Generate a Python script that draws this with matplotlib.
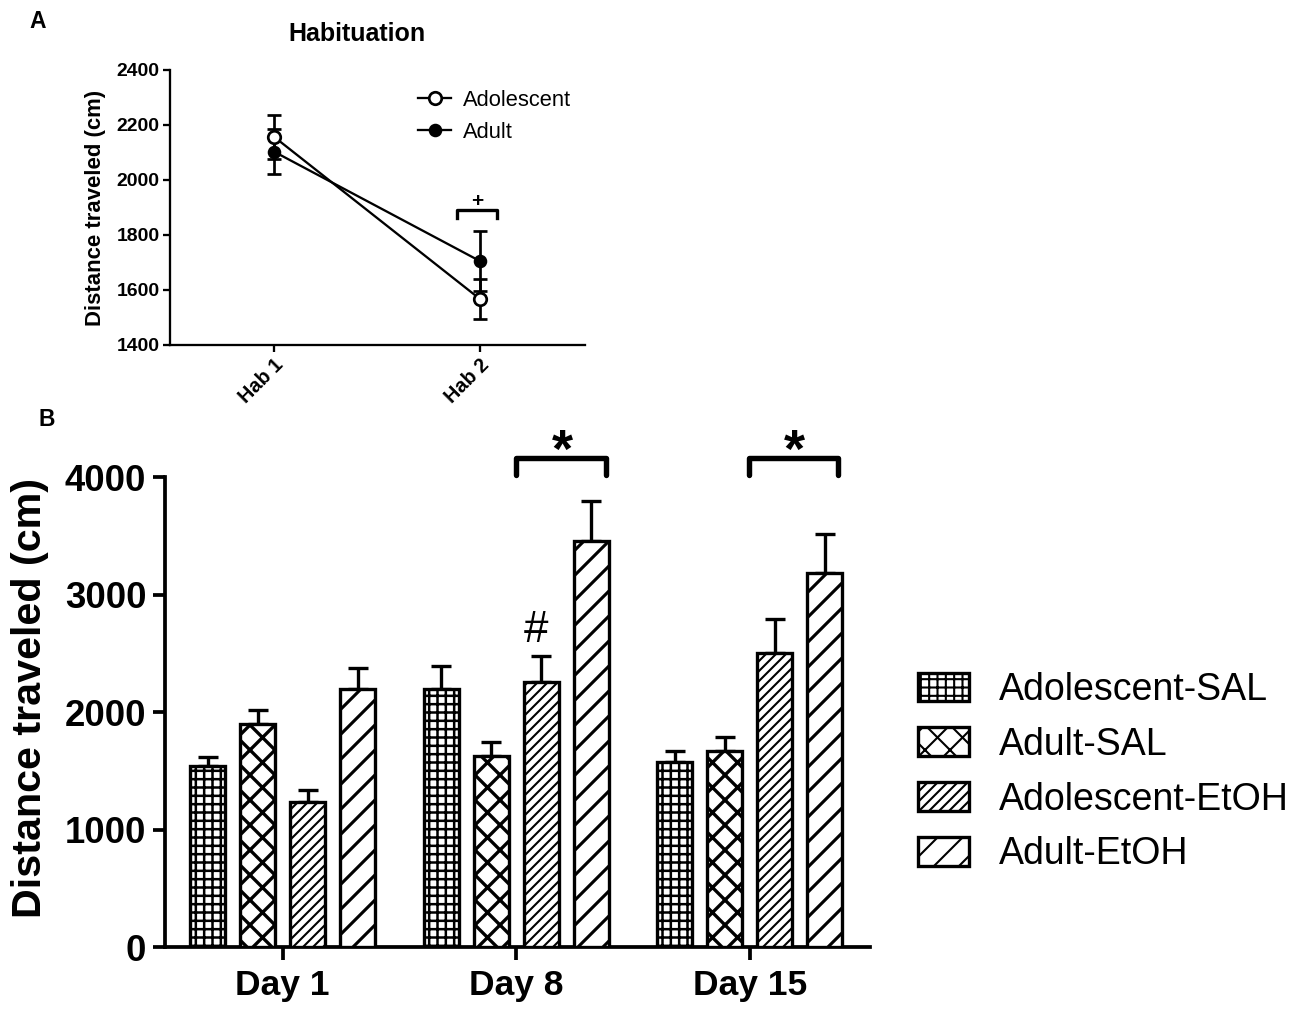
import numpy as np
import matplotlib
matplotlib.use('Agg')
import matplotlib.pyplot as plt

plt.rcParams['font.family'] = ['Liberation Sans', 'DejaVu Sans']

# Panel A: habituation
hab_labels = ['Hab 1', 'Hab 2']
adol_hab = [2157, 1567]
adol_hab_err = [80, 73]
adult_hab = [2103, 1705]
adult_hab_err = [82, 110]

# Panel B: test days
days = ['Day 1', 'Day 8', 'Day 15']
groups = ['Adolescent-SAL', 'Adult-SAL', 'Adolescent-EtOH', 'Adult-EtOH']
means = {
    'Adolescent-SAL': [1545, 2200, 1578],
    'Adult-SAL': [1900, 1630, 1668],
    'Adolescent-EtOH': [1238, 2255, 2500],
    'Adult-EtOH': [2195, 3455, 3183],
}
sems = {
    'Adolescent-SAL': [75, 188, 92],
    'Adult-SAL': [120, 118, 122],
    'Adolescent-EtOH': [97, 218, 290],
    'Adult-EtOH': [180, 343, 330],
}
hatches = ['+++', 'xx', '/////', '//']
hatch_lw = [1.2, 1.6, 1.0, 1.5]

fig = plt.figure(figsize=(1300 / 150, 1017 / 150), dpi=150)

# ---------------- Panel A ----------------
axA = fig.add_axes([0.1308, 0.6608, 0.3192, 0.2704])
x = np.arange(len(hab_labels))
axA.errorbar(x, adol_hab, yerr=adol_hab_err, color='black', lw=1.1,
             marker='o', ms=6, mfc='white', mec='black', mew=1.3,
             capsize=3.2, capthick=1.3, elinewidth=1.3, label='Adolescent')
axA.errorbar(x, adult_hab, yerr=adult_hab_err, color='black', lw=1.1,
             marker='o', ms=5.5, mfc='black', mec='black',
             capsize=3.2, capthick=1.3, elinewidth=1.3, label='Adult')
axA.set_xlim(-0.505, 1.51)
axA.set_ylim(1400, 2400)
axA.set_yticks(np.arange(1400, 2401, 200))
axA.set_xticks(x)
axA.set_xticklabels(hab_labels, rotation=45, ha='right', rotation_mode='anchor',
                    fontsize=9.5, fontweight='bold')
for lab in axA.get_yticklabels():
    lab.set_fontsize(9.3)
    lab.set_fontweight('bold')
axA.spines['top'].set_visible(False)
axA.spines['right'].set_visible(False)
for s in ['left', 'bottom']:
    axA.spines[s].set_linewidth(1.1)
axA.tick_params(width=1.1, length=3.5, pad=1.5)
axA.set_ylabel('Distance traveled (cm)', fontsize=10.6, fontweight='bold')
axA.yaxis.set_label_coords(-0.155, 0.5)
axA.set_title('Habituation', fontsize=12, fontweight='bold', x=0.45, pad=14)
hA, lA = axA.get_legend_handles_labels()
hA = [h[0] for h in hA]
axA.legend(hA, lA, loc='center left', bbox_to_anchor=(0.598, 0.832), frameon=False,
           fontsize=10.5, handlelength=1.5, handletextpad=0.55, borderpad=0,
           borderaxespad=0, labelspacing=0.5)
# significance bracket at Hab 2
axA.plot([0.888, 0.888, 1.083, 1.083], [1862, 1891, 1891, 1862], color='black',
         lw=1.6, clip_on=False)
axA.text(0.985, 1902, '+', ha='center', va='baseline', fontsize=10, fontweight='bold')

# ---------------- Panel B ----------------
axB = fig.add_axes([0.1269, 0.0688, 0.5423, 0.4621])
xd = np.arange(len(days))
offsets = (np.arange(len(groups)) - 1.5) * 0.214
bar_w = 0.15
for i, g in enumerate(groups):
    bars = axB.bar(xd + offsets[i], means[g], width=bar_w, color='white',
                   edgecolor='black', linewidth=1.6, hatch=hatches[i], label=g,
                   zorder=3)
    for b in bars:
        if hasattr(b, 'set_hatch_linewidth'):
            b.set_hatch_linewidth(hatch_lw[i])
    axB.errorbar(xd + offsets[i], means[g], yerr=[np.zeros(3), sems[g]], fmt='none',
                 ecolor='black', elinewidth=1.6, capsize=5, capthick=1.6, zorder=2)

axB.set_xlim(-0.504, 2.515)
axB.set_ylim(0, 4000)
axB.set_yticks(np.arange(0, 4001, 1000))
axB.set_xticks(xd)
axB.set_xticklabels(days, fontsize=17, fontweight='bold')
for lab in axB.get_yticklabels():
    lab.set_fontsize(17.5)
    lab.set_fontweight('bold')
axB.spines['top'].set_visible(False)
axB.spines['right'].set_visible(False)
for s in ['left', 'bottom']:
    axB.spines[s].set_linewidth(1.8)
axB.tick_params(width=1.8, length=6, pad=3)
axB.tick_params(axis='x', pad=4.5)
axB.set_ylabel('Distance traveled (cm)', fontsize=19.8, fontweight='bold')
axB.yaxis.set_label_coords(-0.165, 0.53)

leg = axB.legend(loc='center left', bbox_to_anchor=(1.068, 0.372), frameon=False,
                 fontsize=18, handlelength=1.35, handleheight=0.8,
                 handletextpad=0.8, labelspacing=0.5, borderpad=0, borderaxespad=0)

# significance brackets
for xa, xb, xs in [(1.0, 1.385, 1.2), (1.996, 2.38, 2.19)]:
    axB.plot([xa, xa, xb, xb], [4017, 4160, 4160, 4017], color='black', lw=2.6,
             clip_on=False, solid_capstyle='round', solid_joinstyle='round')
    axB.text(xs, 4090, '*', ha='center', va='baseline', fontsize=26, fontweight='bold')
axB.text(1.085, 2600, '#', ha='center', va='baseline', fontsize=21)

fig.text(38 / 1300, 1 - 22 / 1017, 'A', ha='center', va='center', fontsize=11,
         fontweight='bold')
fig.text(47 / 1300, 1 - 420 / 1017, 'B', ha='center', va='center', fontsize=11,
         fontweight='bold')

fig.savefig('out.png', dpi=150)
